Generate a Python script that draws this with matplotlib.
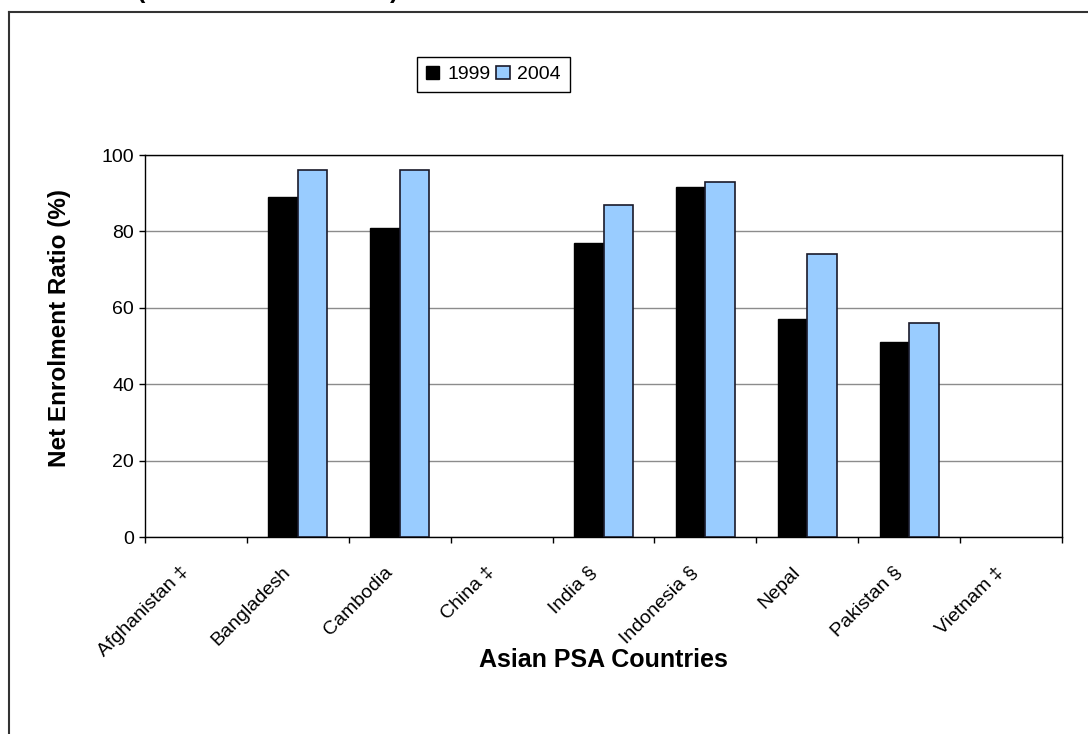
import numpy as np
import matplotlib
matplotlib.use("Agg")
import matplotlib.pyplot as plt
from matplotlib.lines import Line2D
from matplotlib.transforms import ScaledTranslation

# -------------------------------
# Data: net enrolment ratio by country
# -------------------------------
countries = ["Afghanistan \u2021", "Bangladesh", "Cambodia", "China \u2021",
             "India \u00a7", "Indonesia \u00a7", "Nepal", "Pakistan \u00a7",
             "Vietnam \u2021"]
ner_1999 = [np.nan, 89, 81, np.nan, 77, 91.5, 57, 51, np.nan]
ner_2004 = [np.nan, 96, 96, np.nan, 87, 93, 74, 56, np.nan]
series_labels = ["1999", "2004"]

plt.rcParams["font.family"] = ["Liberation Sans", "DejaVu Sans"]

W, H = 1088, 734
fig = plt.figure(figsize=(W / 100, H / 100), dpi=100)
fig.patch.set_facecolor("white")

# plot area in pixel terms
left, right, top, bottom = 145, 1062, 155, 537
ax = fig.add_axes([left / W, 1 - bottom / H, (right - left) / W, (bottom - top) / H])

x = np.arange(len(countries))
bw = 0.29
ax.bar(x - bw / 2, ner_1999, bw, color="black", edgecolor="black",
       linewidth=1.0, label=series_labels[0], zorder=3)
ax.bar(x + bw / 2, ner_2004, bw, color="#99CCFF", edgecolor="#1a1a2a",
       linewidth=1.2, label=series_labels[1], zorder=3)

ax.set_xlim(-0.5, len(countries) - 0.5)
ax.set_ylim(0, 100)
ax.set_yticks(np.arange(0, 101, 20))
ax.yaxis.grid(True, color="#8c8c8c", linewidth=1.0, zorder=0)
ax.tick_params(axis="y", labelsize=14, length=4, width=1, direction="out", pad=4)

# category labels at centres, tick marks at category boundaries
ax.set_xticks(x)
ax.set_xticklabels(countries, rotation=45, ha="right", rotation_mode="anchor",
                   fontsize=14)
ax.tick_params(axis="x", which="major", length=0, pad=19)
shift = ScaledTranslation(-16 / 100, 0, fig.dpi_scale_trans)
for lbl in ax.get_xticklabels():
    lbl.set_transform(lbl.get_transform() + shift)
ax.set_xticks(np.arange(-0.5, len(countries)), minor=True)
ax.tick_params(axis="x", which="minor", length=4, width=1, direction="out")

for s in ax.spines.values():
    s.set_color("black")
    s.set_linewidth(1.0)

ax.set_xlabel("Asian PSA Countries", fontsize=18, fontweight="bold")
ax.xaxis.set_label_coords(0.5, -0.29)
ax.set_ylabel("Net Enrolment Ratio (%)", fontsize=17.5, fontweight="bold")
ax.yaxis.set_label_coords(-0.081, 0.547)

fig.legend(loc="upper left", bbox_to_anchor=(417 / W, 1 - 57 / H), ncol=2,
           fontsize=14, frameon=True, fancybox=False, edgecolor="black",
           framealpha=1, handlelength=0.7, handleheight=0.7,
           handletextpad=0.4, columnspacing=0.3, borderpad=0.45,
           borderaxespad=0)

# outer chart frame (runs past the right and bottom edges)
fx, fy = 9 / W, 1 - 12 / H
fig.add_artist(Line2D([fx, fx], [0, fy], transform=fig.transFigure,
                      color="#333333", linewidth=1.5))
fig.add_artist(Line2D([fx, 1], [fy, fy], transform=fig.transFigure,
                      color="#333333", linewidth=1.5))

# tails of the title's parentheses just above the frame
fig.text(137 / W, 1 + 2 / H, "(", ha="left", va="baseline", fontsize=18,
         fontweight="bold")
fig.text(390 / W, 1 + 2 / H, ")", ha="left", va="baseline", fontsize=18,
         fontweight="bold")

fig.savefig("out.png", dpi=100)
